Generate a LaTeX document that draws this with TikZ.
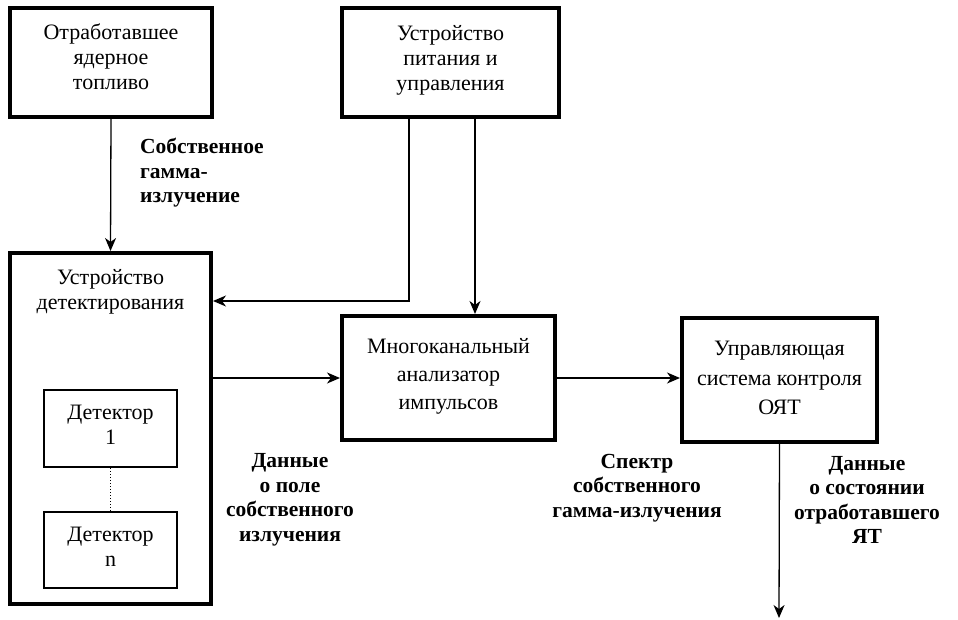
\documentclass[tikz,border=0pt]{standalone}
\usepackage{fontspec}
\setmainfont{Liberation Serif}
\usetikzlibrary{arrows.meta}
\begin{document}
\begin{tikzpicture}[x=1pt,y=-1pt,
  bigbox/.style={draw,line width=4pt,rectangle,inner sep=0pt},
  detbox/.style={draw,line width=2pt,rectangle,inner sep=0pt},
  boxtext/.style={align=center,font=\fontsize{22}{25}\selectfont,inner sep=0pt},
  lbl/.style={align=center,font=\fontsize{21.5}{24.5}\selectfont\bfseries,inner sep=0pt},
  conn/.style={line width=1.3pt,-{Stealth[length=13pt,width=11pt,inset=4pt]}},
  plain/.style={line width=1.3pt}]
\useasboundingbox (0,0) rectangle (958,620);
% boxes
\node[bigbox,minimum width=202pt,minimum height=109pt] (fuel) at (111,62.5) {};
\node[boxtext] (fueltxt) at (111,57) {Отработавшее\\ядерное\\топливо};
\node[bigbox,minimum width=217pt,minimum height=109pt] (power) at (450.5,62.5) {};
\node[boxtext] (powertxt) at (450.5,60) {Устройство\\питания и\\управления};
\node[bigbox,minimum width=201pt,minimum height=351pt] (det) at (110.5,428.5) {};
\node[boxtext] (dettxt) at (110.5,292) {Устройство\\детектирования};
\node[detbox,minimum width=133pt,minimum height=77pt] (d1) at (110.5,428.5) {};
\node[boxtext] (d1txt) at (110.5,425) {Детектор\\1};
\node[detbox,minimum width=133pt,minimum height=76pt] (dn) at (110.5,550) {};
\node[boxtext] (dntxt) at (110.5,547) {Детектор\\n};
\node[bigbox,minimum width=213pt,minimum height=124pt] (mca) at (448.5,378) {};
\node[boxtext,font=\fontsize{22}{28}\selectfont] (mcatxt) at (448.5,376) {Многоканальный\\анализатор\\импульсов};
\node[bigbox,minimum width=195pt,minimum height=124pt] (ctrl) at (779.5,380) {};
\node[boxtext,font=\fontsize{22}{29.5}\selectfont] (ctrltxt) at (779.5,378) {Управляющая\\система контроля\\ОЯТ};
% connectors
\draw[conn] (fuel.south) -- (det.north);
\coordinate (bend) at (409,301);
\draw[conn] (power.south -| bend) -- (bend) -- (det.east |- bend);
\coordinate (pm) at (475,0);
\draw[conn] (power.south -| pm) -- (mca.north -| pm);
\coordinate (ym) at (0,378);
\draw[conn] (det.east |- ym) -- (mca.west |- ym);
\draw[conn] (mca.east |- ym) -- (ctrl.west |- ym);
\coordinate (outend) at (779,618);
\draw[conn] (ctrl.south) -- (outend);
\draw[line width=1pt,dotted] (d1.south) -- (dn.north);
% labels
\node[lbl,align=left,anchor=west] (lblA) at (140,173) {Собственное\\гамма-\\излучение};
\node[lbl] (lblB) at (290,500) {Данные\\о поле\\собственного\\излучения};
\node[lbl] (lblC) at (637,488) {Спектр\\собственного\\гамма-излучения};
\node[lbl] (lblD) at (867,500) {Данные\\о состоянии\\отработавшего\\ЯТ};
\end{tikzpicture}
\end{document}
